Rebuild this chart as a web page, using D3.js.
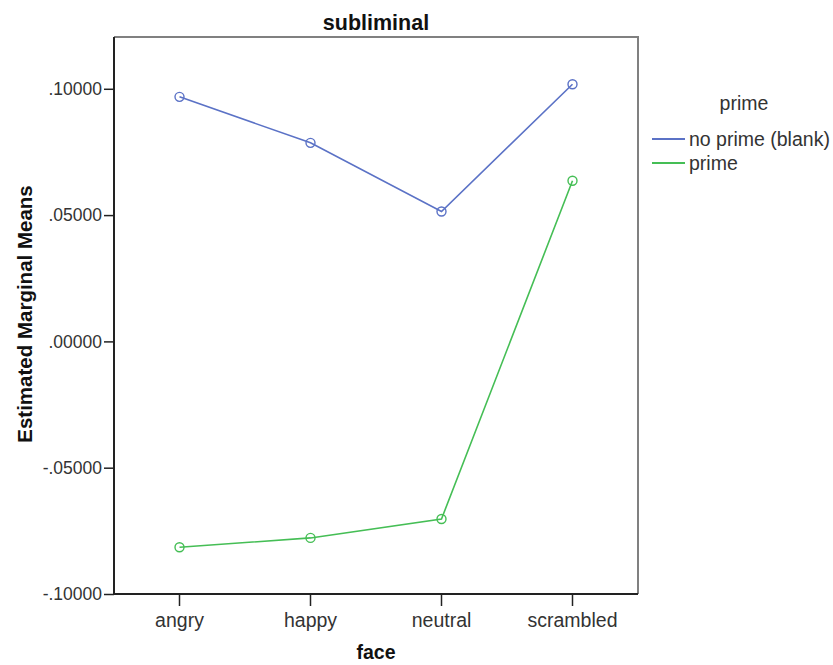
<!DOCTYPE html>
<html><head><meta charset="utf-8">
<script src="https://cdn.jsdelivr.net/npm/d3@7"></script>
<style>body{margin:0;background:#fff}</style>
</head><body>
<svg id="c" width="833" height="665"></svg>
<script>
const categories = ["angry", "happy", "neutral", "scrambled"];
const seriesNames = ["no prime (blank)", "prime"];
const noPrime = [0.0968, 0.0786, 0.0514, 0.1018];
const prime = [-0.0815, -0.0778, -0.0703, 0.0636];
const yTicks = [-0.10, -0.05, 0.00, 0.05, 0.10];
const colors = ["#5b72c6", "#45be55"];

const svg = d3.select("#c");
const L = 114, R = 638, T = 37, B = 594;
const x = d3.scaleBand().domain(categories).range([L, R]).padding(0);
const y = d3.scaleLinear().domain([-0.10, 0.1205]).range([B, T]);
const font = "'Liberation Sans', Arial, sans-serif";

// frame top/right grey
svg.append("path").attr("d", `M${L},${T}H${R}V${B}`).attr("fill","none").attr("stroke","#808080").attr("stroke-width",2);

const fmt = d => (d < 0 ? "-" : "") + d3.format(".5f")(Math.abs(d)).replace(/^0/, "");
const ya = svg.append("g").attr("transform", `translate(${L},0)`)
  .call(d3.axisLeft(y).tickValues(yTicks).tickFormat(fmt).tickSize(10).tickPadding(2));
const xa = svg.append("g").attr("transform", `translate(0,${B})`)
  .call(d3.axisBottom(x).tickSize(12).tickPadding(7));
[ya, xa].forEach(a => {
  a.select(".domain").attr("stroke", "#222").attr("stroke-width", 2);
  a.selectAll(".tick line").attr("stroke", "#222").attr("stroke-width", 1.5);
  a.selectAll("text").attr("font-family", font).attr("fill", "#333");
});
ya.selectAll("text").attr("font-size", 17.5);
xa.selectAll("text").attr("font-size", 19.5);
ya.select(".domain").attr("d", `M0,${B}V${T}`);
xa.select(".domain").attr("d", `M${L},0H${R}`);

const cx = c => x(c) + x.bandwidth() / 2;
const data = [noPrime, prime];
const line = d3.line().x((d, i) => cx(categories[i])).y(d => y(d));
data.forEach((vals, s) => {
  svg.append("path").datum(vals).attr("d", line).attr("fill", "none")
    .attr("stroke", colors[s]).attr("stroke-width", 1.6);
  svg.selectAll(null).data(vals).enter().append("circle")
    .attr("cx", (d, i) => cx(categories[i])).attr("cy", d => y(d)).attr("r", 4.5)
    .attr("fill", "none").attr("stroke", colors[s]).attr("stroke-width", 1.4);
});

svg.append("text").attr("x", (L + R) / 2).attr("y", 30).attr("text-anchor", "middle")
  .attr("font-family", font).attr("font-weight", "bold").attr("font-size", 21.5).attr("fill", "#111").text("subliminal");
svg.append("text").attr("x", (L + R) / 2).attr("y", 659).attr("text-anchor", "middle")
  .attr("font-family", font).attr("font-weight", "bold").attr("font-size", 19.5).attr("fill", "#111").text("face");
svg.append("text").attr("transform", `translate(32,314) rotate(-90)`).attr("text-anchor", "middle")
  .attr("font-family", font).attr("font-weight", "bold").attr("font-size", 20.5).attr("fill", "#111").text("Estimated Marginal Means");

// legend
svg.append("text").attr("x", 744).attr("y", 110).attr("text-anchor", "middle")
  .attr("font-family", font).attr("font-size", 19.5).attr("fill", "#333").text("prime");
seriesNames.forEach((n, i) => {
  const yy = 139 + i * 24;
  svg.append("line").attr("x1", 652).attr("x2", 685).attr("y1", yy).attr("y2", yy)
    .attr("stroke", colors[i]).attr("stroke-width", 2);
  svg.append("text").attr("x", 689).attr("y", yy + 6.5).attr("font-family", font)
    .attr("font-size", 19.5).attr("fill", "#333").text(n);
});
</script>
</body></html>
